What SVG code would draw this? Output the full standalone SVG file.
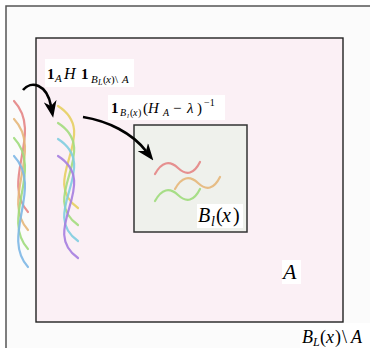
<svg xmlns="http://www.w3.org/2000/svg" width="370" height="348" viewBox="0 0 370 348">
<style>
text{font-family:"Liberation Serif","Times New Roman",serif}
.m{font-style:italic;fill:#000}
.r{font-style:normal;fill:#000}
.b{font-weight:bold;fill:#000}
.wave{fill:none;stroke-width:2.2;stroke-linecap:round;opacity:0.9}
.lab{fill:#ffffff}
.arrow{fill:none;stroke:#000;stroke-width:2.6}
</style>
<defs>
<marker id="stealth" markerUnits="userSpaceOnUse" markerWidth="17" markerHeight="13" refX="5" refY="6.5" orient="auto">
<path d="M17,6.5 L0,0 L5,6.5 L0,13 Z" fill="#000"/>
</marker>
<path id="wl" d="M0,0 C30,32 -14,80 14,111"/>
<path id="wr" d="M0,0 C44,28 -20,74 20,102"/>
<path id="wb" d="M0,0 Q10,-18 23,-6 T45,-12"/>
</defs>

<g id="outer">
<rect x="6" y="6" width="380" height="360" fill="#fbfbfb" stroke="#555" stroke-width="1.5"/>
</g>

<g id="waves-outside">
<use href="#wl" x="14" y="101" class="wave" stroke="#e48585"/>
<use href="#wl" x="14" y="119" class="wave" stroke="#e6b77a"/>
<use href="#wl" x="14" y="138" class="wave" stroke="#9fdb7c"/>
<use href="#wl" x="14" y="156" class="wave" stroke="#7db7e5"/>
</g>

<g id="regionA">
<rect x="36" y="38" width="307" height="284" fill="#fbf0f5" stroke="#222" stroke-width="1.4"/>
<rect x="282" y="260" width="19" height="24" class="lab"/>
<text x="283" y="279" font-size="22" class="m">A</text>
</g>

<g id="waves-inside">
<use href="#wr" x="58" y="106" class="wave" stroke="#e6cf62"/>
<use href="#wr" x="58" y="123" class="wave" stroke="#a3dc7e"/>
<use href="#wr" x="58" y="139" class="wave" stroke="#7fcde0"/>
<use href="#wr" x="58" y="156" class="wave" stroke="#a57de0"/>
</g>

<g id="ball">
<rect x="134" y="125" width="113" height="107" fill="#eff1ec" stroke="#333" stroke-width="1.5"/>
<use href="#wb" x="155" y="174" class="wave" stroke="#e48585"/>
<use href="#wb" x="175" y="189" class="wave" stroke="#e6b77a"/>
<use href="#wb" x="155" y="201" class="wave" stroke="#9fdb7c"/>
<rect x="197" y="204" width="46" height="24" class="lab"/>
<text y="222" font-size="20"><tspan x="198" class="m">B</tspan><tspan x="211" y="226" font-size="14" class="m">l</tspan><tspan x="216" y="222" class="r">(</tspan><tspan x="222" class="m">x</tspan><tspan x="233" class="r">)</tspan></text>
</g>

<g id="label-boundary">
<rect x="300" y="323" width="70" height="25" class="lab"/>
<text y="343" font-size="18"><tspan x="302" class="m">B</tspan><tspan x="313" y="346" font-size="12" class="m">L</tspan><tspan x="320" y="343" class="r">(</tspan><tspan x="326" class="m">x</tspan><tspan x="335" class="r">)</tspan><tspan x="342" class="r">\</tspan><tspan x="351" class="m">A</tspan></text>
</g>

<g id="label1">
<rect x="45" y="59" width="89" height="28" class="lab"/>
<text y="79" font-size="15"><tspan x="47" class="b">1</tspan><tspan x="55" y="82" font-size="11" class="m">A</tspan><tspan x="64" y="79" font-size="16" class="m">H</tspan><tspan x="81" class="b">1</tspan><tspan x="91" y="83" font-size="11" class="m">B</tspan><tspan x="98" y="85" font-size="8" class="m">L</tspan><tspan x="103" y="83" font-size="11" class="r">(</tspan><tspan x="106" font-size="11" class="m">x</tspan><tspan x="111" font-size="11" class="r">)</tspan><tspan x="115" font-size="11" class="r">\</tspan><tspan x="122" font-size="11" class="m">A</tspan></text>
</g>

<g id="label2">
<rect x="108" y="95" width="117" height="25" class="lab"/>
<text y="113" font-size="15"><tspan x="111" class="b">1</tspan><tspan x="120" y="116" font-size="10" class="m">B</tspan><tspan x="127" y="118" font-size="7" class="m">l</tspan><tspan x="130" y="116" font-size="10" class="r">(</tspan><tspan x="133" font-size="10" class="m">x</tspan><tspan x="138" font-size="10" class="r">)</tspan><tspan x="143" y="113" font-size="15" class="r">(</tspan><tspan x="148" font-size="15" class="m">H</tspan><tspan x="163" y="116" font-size="10" class="m">A</tspan><tspan x="173" y="113" font-size="15" class="r">−</tspan><tspan x="187" font-size="15" class="m">λ</tspan><tspan x="197" font-size="15" class="r">)</tspan><tspan x="204" y="106" font-size="10" class="r">−1</tspan></text>
</g>

<g id="connectors">
<path class="arrow" d="M23,90 C31,80 47,84 51,106" marker-end="url(#stealth)"/>
<path class="arrow" d="M83,117 C108,121 132,133 146,151" marker-end="url(#stealth)"/>
</g>
</svg>
